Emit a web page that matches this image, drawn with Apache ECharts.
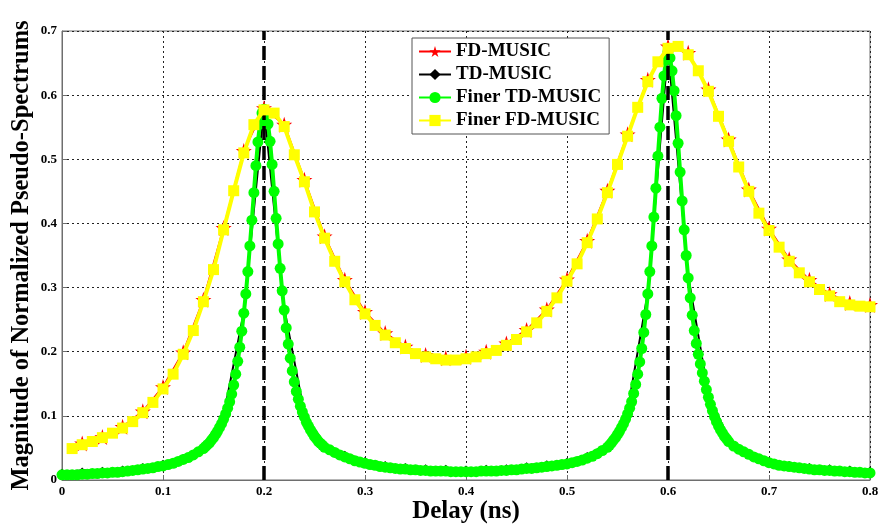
<!DOCTYPE html>
<html>
<head>
<meta charset="utf-8">
<script src="https://cdn.jsdelivr.net/npm/echarts@6/dist/echarts.min.js"></script>
<style>html,body{margin:0;padding:0;background:#fff}#c{width:880px;height:527px}</style>
</head>
<body>
<div id="c"></div>
<script>
// ---- data ----
const xTicks = [0, 0.1, 0.2, 0.3, 0.4, 0.5, 0.6, 0.7, 0.8];
const yTicks = [0, 0.1, 0.2, 0.3, 0.4, 0.5, 0.6, 0.7];
const trueDelays = [0.2, 0.6];

// FD-MUSIC (red stars), delay / magnitude
const fdDelay = [0.02,0.04,0.06,0.08,0.10,0.12,0.14,0.16,0.18,0.20,0.22,0.24,0.26,0.28,0.30,0.32,0.34,0.36,0.38,0.40,
  0.42,0.44,0.46,0.48,0.50,0.52,0.54,0.56,0.58,0.60,0.62,0.64,0.66,0.68,0.70,0.72,0.74,0.76,0.78,0.80];
const fdMag = [0.057,0.067,0.083,0.107,0.145,0.199,0.281,0.393,0.513,0.580,0.554,0.468,0.380,0.312,0.262,0.229,0.208,0.195,0.190,0.192,
  0.200,0.213,0.234,0.266,0.313,0.373,0.451,0.539,0.624,0.676,0.666,0.609,0.531,0.453,0.392,0.344,0.312,0.290,0.276,0.273];

// Finer FD-MUSIC (yellow squares)
const finerFdDelay = [0.01,0.02,0.03,0.04,0.05,0.06,0.07,0.08,0.09,0.10,0.11,0.12,0.13,0.14,0.15,0.16,0.17,0.18,0.19,0.20,
  0.21,0.22,0.23,0.24,0.25,0.26,0.27,0.28,0.29,0.30,0.31,0.32,0.33,0.34,0.35,0.36,0.37,0.38,0.39,0.40,
  0.41,0.42,0.43,0.44,0.45,0.46,0.47,0.48,0.49,0.50,0.51,0.52,0.53,0.54,0.55,0.56,0.57,0.58,0.59,0.60,
  0.61,0.62,0.63,0.64,0.65,0.66,0.67,0.68,0.69,0.70,0.71,0.72,0.73,0.74,0.75,0.76,0.77,0.78,0.79,0.80];
const finerFdMag = [0.049,0.055,0.060,0.066,0.073,0.081,0.091,0.105,0.121,0.142,0.165,0.196,0.233,0.278,0.328,0.390,0.451,0.510,0.554,0.577,
  0.572,0.551,0.507,0.465,0.418,0.377,0.341,0.309,0.281,0.259,0.241,0.226,0.214,0.205,0.197,0.192,0.189,0.187,0.187,0.189,
  0.192,0.197,0.202,0.210,0.219,0.231,0.245,0.263,0.284,0.310,0.337,0.370,0.407,0.448,0.492,0.536,0.581,0.621,0.652,0.673,
  0.676,0.663,0.638,0.606,0.567,0.528,0.488,0.450,0.416,0.389,0.363,0.341,0.323,0.309,0.297,0.287,0.278,0.273,0.271,0.270];

// TD-MUSIC (black diamonds)
const tdDelay = [0,0.02,0.04,0.06,0.08,0.10,0.12,0.14,0.16,0.18,0.20,0.22,0.24,0.26,0.28,0.30,0.32,0.34,0.36,0.38,0.40,
  0.42,0.44,0.46,0.48,0.50,0.52,0.54,0.56,0.58,0.60,0.62,0.64,0.66,0.68,0.70,0.72,0.74,0.76,0.78,0.80];
const tdMag = [0.013,0.015,0.016,0.018,0.022,0.027,0.036,0.054,0.100,0.262,0.580,0.268,0.103,0.056,0.041,0.031,0.025,0.022,0.020,0.019,0.018,
  0.019,0.020,0.023,0.026,0.030,0.039,0.056,0.108,0.292,0.672,0.318,0.133,0.065,0.043,0.031,0.025,0.022,0.020,0.018,0.016];

// Finer TD-MUSIC (green circles), [delay, magnitude]
const finerTd = [
  [0,0.008],[0.005,0.008],[0.01,0.008],[0.015,0.008],[0.02,0.009],[0.025,0.009],[0.03,0.010],[0.035,0.010],[0.04,0.011],[0.045,0.011],
  [0.05,0.012],[0.055,0.012],[0.06,0.013],[0.065,0.014],[0.07,0.015],[0.075,0.016],[0.08,0.017],[0.085,0.018],[0.09,0.019],[0.095,0.021],
  [0.1,0.022],[0.105,0.024],[0.11,0.026],[0.115,0.029],[0.12,0.032],[0.125,0.035],[0.13,0.039],[0.135,0.044],
  [0.14,0.049],[0.142,0.052],[0.144,0.055],[0.146,0.058],[0.148,0.062],[0.15,0.066],[0.152,0.071],[0.154,0.076],[0.156,0.082],[0.158,0.088],
  [0.16,0.095],[0.162,0.103],[0.164,0.112],[0.166,0.122],[0.168,0.134],[0.17,0.148],[0.172,0.165],[0.174,0.185],[0.176,0.207],[0.178,0.232],
  [0.18,0.26],[0.182,0.29],[0.184,0.325],[0.186,0.365],[0.188,0.405],[0.19,0.448],[0.192,0.49],[0.194,0.527],[0.196,0.555],[0.198,0.572],
  [0.2,0.578],
  [0.202,0.572],[0.204,0.555],[0.206,0.528],[0.208,0.492],[0.21,0.45],[0.212,0.408],[0.214,0.368],[0.216,0.33],[0.218,0.295],[0.22,0.265],
  [0.222,0.237],[0.224,0.212],[0.226,0.19],[0.228,0.17],[0.23,0.153],[0.232,0.138],[0.234,0.126],[0.236,0.115],[0.238,0.106],[0.24,0.098],
  [0.242,0.09],[0.244,0.084],[0.246,0.078],[0.248,0.073],[0.25,0.068],[0.252,0.064],[0.254,0.06],[0.256,0.057],[0.258,0.054],[0.26,0.051],
  [0.265,0.047],[0.27,0.043],[0.275,0.039],[0.28,0.036],[0.285,0.033],[0.29,0.030],[0.295,0.028],[0.3,0.026],[0.305,0.024],[0.31,0.023],
  [0.315,0.021],[0.32,0.020],[0.325,0.019],[0.33,0.018],[0.335,0.017],[0.34,0.017],[0.345,0.016],[0.35,0.016],[0.355,0.015],[0.36,0.015],
  [0.365,0.014],[0.37,0.014],[0.375,0.014],[0.38,0.014],[0.385,0.013],[0.39,0.013],[0.395,0.013],[0.4,0.013],[0.405,0.013],[0.41,0.013],
  [0.415,0.014],[0.42,0.014],[0.425,0.014],[0.43,0.014],[0.435,0.015],[0.44,0.015],[0.445,0.016],[0.45,0.016],[0.455,0.017],[0.46,0.018],
  [0.465,0.018],[0.47,0.019],[0.475,0.020],[0.48,0.021],[0.485,0.022],[0.49,0.023],[0.495,0.024],[0.5,0.025],[0.505,0.027],[0.51,0.029],
  [0.515,0.031],[0.52,0.034],[0.525,0.037],[0.53,0.041],[0.535,0.046],
  [0.54,0.051],[0.542,0.054],[0.544,0.058],[0.546,0.062],[0.548,0.066],[0.55,0.071],[0.552,0.076],[0.554,0.082],[0.556,0.088],[0.558,0.095],
  [0.56,0.103],[0.562,0.112],[0.564,0.122],[0.566,0.135],[0.568,0.149],[0.57,0.165],[0.572,0.184],[0.574,0.205],[0.576,0.23],[0.578,0.258],
  [0.58,0.29],[0.582,0.325],[0.584,0.365],[0.586,0.41],[0.588,0.455],[0.59,0.505],[0.592,0.55],[0.594,0.595],[0.596,0.63],[0.598,0.655],
  [0.6,0.668],
  [0.602,0.658],[0.604,0.638],[0.606,0.607],[0.608,0.568],[0.61,0.525],[0.612,0.48],[0.614,0.435],[0.616,0.39],[0.618,0.35],[0.62,0.315],
  [0.622,0.284],[0.624,0.257],[0.626,0.233],[0.628,0.213],[0.63,0.196],[0.632,0.181],[0.634,0.167],[0.636,0.154],[0.638,0.141],[0.64,0.129],
  [0.642,0.118],[0.644,0.108],[0.646,0.099],[0.648,0.091],[0.65,0.084],[0.652,0.078],[0.654,0.073],[0.656,0.068],[0.658,0.064],[0.66,0.06],
  [0.665,0.053],[0.67,0.048],[0.675,0.044],[0.68,0.040],[0.685,0.036],[0.69,0.033],[0.695,0.030],[0.7,0.027],[0.705,0.025],[0.71,0.023],
  [0.715,0.022],[0.72,0.021],[0.725,0.020],[0.73,0.019],[0.735,0.018],[0.74,0.017],[0.745,0.016],[0.75,0.016],[0.755,0.015],[0.76,0.015],
  [0.765,0.014],[0.77,0.014],[0.775,0.013],[0.78,0.013],[0.785,0.012],[0.79,0.012],[0.795,0.011],[0.8,0.011]
];

const seriesNames = ['FD-MUSIC', 'TD-MUSIC', 'Finer TD-MUSIC', 'Finer FD-MUSIC'];

// ---- chart ----
const zip = (a, b) => a.map((v, i) => [v, b[i]]);
const FONT = '"Liberation Serif", "Times New Roman", serif';
const STAR = 'path://M50,0 L61,35 L98,35 L68,57 L79,91 L50,70 L21,91 L32,57 L2,35 L39,35 Z';

const chart = echarts.init(document.getElementById('c'), null, {renderer: 'canvas'});
chart.setOption({
  animation: false,
  backgroundColor: '#fff',
  grid: {left: 62, right: 10, top: 31, bottom: 47, containLabel: false, outerBoundsMode: 'none',
    show: true, borderColor: '#6e6e6e', borderWidth: 1, backgroundColor: 'transparent'},
  legend: {
    data: seriesNames,
    orient: 'vertical',
    left: 412, top: 38,
    itemWidth: 32, itemHeight: 14, itemGap: 4,
    padding: [4, 8, 4, 6],
    backgroundColor: '#fff',
    borderColor: '#555', borderWidth: 1,
    textStyle: {fontFamily: FONT, fontWeight: 'bold', fontSize: 19, color: '#000'}
  },
  xAxis: {
    type: 'value', min: xTicks[0], max: xTicks[xTicks.length - 1], interval: 0.1,
    name: 'Delay (ns)', nameLocation: 'middle', nameGap: 19, nameMoveOverlap: false,
    nameTextStyle: {fontFamily: FONT, fontWeight: 'bold', fontSize: 25, color: '#000'},
    axisLine: {show: true, lineStyle: {color: '#6e6e6e', width: 1}},
    axisTick: {show: true, inside: true, length: 5, lineStyle: {color: '#6e6e6e'}},
    axisLabel: {fontFamily: FONT, fontWeight: 'bold', fontSize: 13, color: '#000', margin: 5},
    splitLine: {show: true, lineStyle: {color: '#222', type: [2, 3], width: 1}}
  },
  yAxis: {
    type: 'value', min: yTicks[0], max: yTicks[yTicks.length - 1], interval: 0.1,
    name: 'Magnitude of Normalized Pseudo-Spectrums', nameLocation: 'middle', nameGap: 28, nameRotate: 90, nameMoveOverlap: false,
    nameTextStyle: {fontFamily: FONT, fontWeight: 'bold', fontSize: 24.5, color: '#000'},
    axisLine: {show: true, lineStyle: {color: '#6e6e6e', width: 1}},
    axisTick: {show: true, inside: true, length: 5, lineStyle: {color: '#6e6e6e'}},
    axisLabel: {fontFamily: FONT, fontWeight: 'bold', fontSize: 13, color: '#000', margin: 5},
    splitLine: {show: true, lineStyle: {color: '#222', type: [2, 3], width: 1}}
  },
  series: [
    {
      name: seriesNames[0], type: 'line', data: zip(fdDelay, fdMag),
      symbol: STAR, symbolSize: 16,
      itemStyle: {color: '#ff0000'}, lineStyle: {color: '#ff0000', width: 2}, z: 2
    },
    {
      name: seriesNames[1], type: 'line', data: zip(tdDelay, tdMag),
      symbol: 'diamond', symbolSize: 6,
      itemStyle: {color: '#000'}, lineStyle: {color: '#000', width: 2}, z: 3
    },
    {
      name: seriesNames[2], type: 'line', data: finerTd,
      symbol: 'circle', symbolSize: 11,
      itemStyle: {color: '#00ff00'}, lineStyle: {color: '#00ff00', width: 4}, z: 4
    },
    {
      name: seriesNames[3], type: 'line', data: zip(finerFdDelay, finerFdMag),
      symbol: 'rect', symbolSize: 11,
      itemStyle: {color: '#ffff00'}, lineStyle: {color: '#ffff00', width: 4}, z: 5
    },
    {
      name: 'true delays', type: 'line', data: [], z: 10,
      markLine: {
        silent: true, symbol: ['none', 'none'], label: {show: false},
        lineStyle: {color: '#000', width: 3.5, type: [14, 6]},
        data: trueDelays.map(d => ({xAxis: d}))
      }
    }
  ]
});
</script>
</body>
</html>
